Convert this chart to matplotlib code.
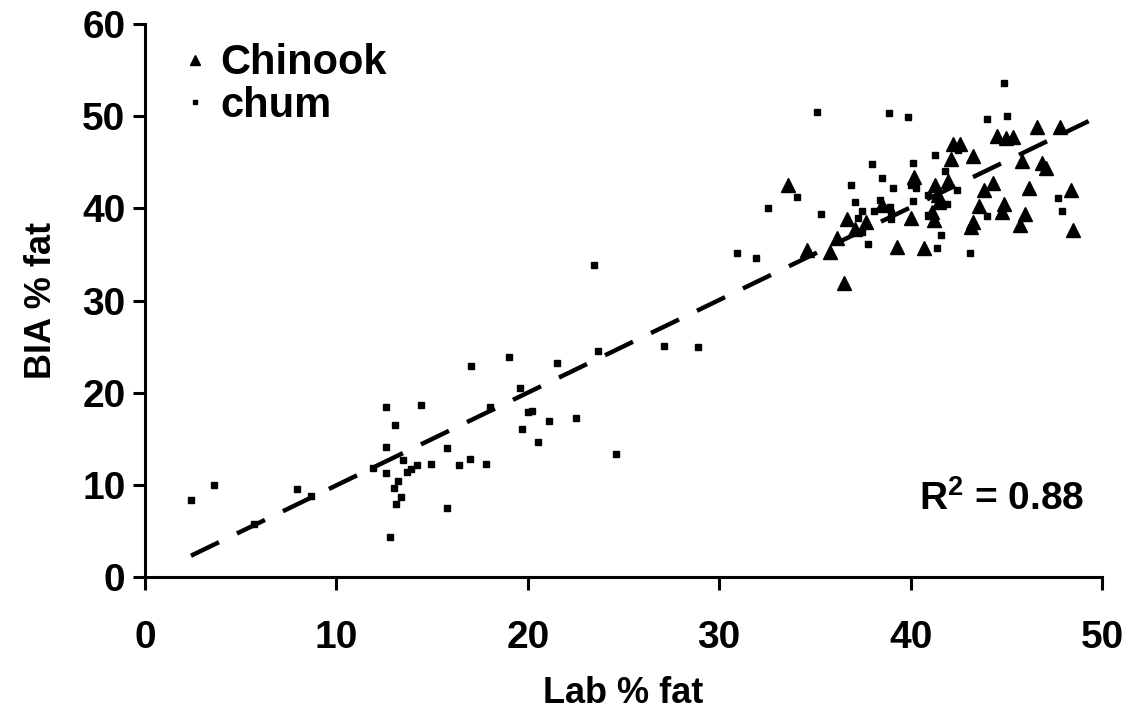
import numpy as np
import matplotlib
matplotlib.use("Agg")
import matplotlib.pyplot as plt

plt.rcParams["font.family"] = ["Liberation Sans", "DejaVu Sans"]
plt.rcParams["font.weight"] = "bold"
plt.rcParams["mathtext.fontset"] = "custom"
plt.rcParams["mathtext.bf"] = "Liberation Sans:bold"
plt.rcParams["mathtext.rm"] = "Liberation Sans:bold"

# Chinook (triangles): lab % fat, BIA % fat
chinook_x = [33.6, 34.6, 35.8, 36.15, 36.5, 36.7, 37.1, 37.65, 38.5, 39.3,
             40.0, 40.2, 40.7, 41.1, 41.2, 41.25, 41.45, 41.5, 41.95, 42.1,
             42.2, 42.6, 43.25, 43.25, 43.15, 43.55, 43.85, 44.3, 44.5, 44.8,
             44.9, 45.0, 45.35, 45.7, 45.8, 46.0, 46.2, 46.6, 46.85, 47.05,
             47.8, 48.4, 48.5]
chinook_y = [42.5, 35.5, 35.3, 36.8, 31.9, 38.8, 37.8, 38.5, 40.4, 35.8,
             39.0, 43.45, 35.65, 39.6, 38.75, 42.55, 41.45, 40.7, 43.0, 45.3,
             47.0, 46.95, 45.7, 38.5, 38.0, 40.3, 41.95, 42.7, 47.8, 39.55,
             40.45, 47.6, 47.7, 38.2, 45.1, 39.35, 42.2, 48.85, 44.9, 44.35,
             48.85, 42.0, 37.65]

# chum (squares)
chum_x = [2.4, 3.6, 5.7, 7.95, 8.65, 11.9, 12.6, 14.4, 13.05, 12.6,
          12.6, 13.5, 13.2, 13.0, 13.4, 13.1, 12.8, 13.7, 13.9, 14.2,
          14.95, 15.8, 15.8, 16.4, 17.0, 17.8, 17.05, 18.0, 19.0, 19.6,
          19.7, 20.0, 20.2, 20.55, 21.1, 21.5, 22.5, 23.45, 23.65, 24.6,
          27.1, 28.9, 30.95, 31.9, 32.55, 34.05, 35.1, 35.3,
          36.9, 37.1, 37.45, 37.25, 37.45, 37.8, 38.0, 38.5, 39.1, 38.1,
          38.4, 38.9, 39.0, 39.0, 38.85, 39.85, 40.1, 40.0, 40.3, 40.1,
          40.9, 40.9, 41.3, 41.8, 41.9, 42.45, 41.6, 41.4, 44.0, 45.05,
          44.9, 42.5, 44.0, 47.7, 47.9, 43.1]
chum_y = [8.4, 10.0, 5.75, 9.6, 8.8, 11.85, 18.5, 18.7, 16.5, 14.1,
          11.3, 12.7, 10.4, 9.7, 8.7, 7.9, 4.3, 11.4, 11.7, 12.2,
          12.25, 14.05, 7.5, 12.1, 12.8, 12.3, 22.9, 18.4, 23.9, 20.5,
          16.05, 17.9, 18.0, 14.6, 16.9, 23.2, 17.2, 33.8, 24.5, 13.4,
          25.1, 25.0, 35.2, 34.6, 40.0, 41.2, 50.4, 39.4,
          42.5, 40.7, 39.7, 39.0, 37.4, 36.1, 44.8, 43.3, 42.25, 39.7,
          40.9, 40.2, 39.5, 38.85, 50.3, 49.95, 44.9, 42.55, 42.2, 40.8,
          41.45, 39.3, 45.8, 44.05, 40.5, 41.95, 37.1, 35.75, 49.7, 50.0,
          53.55, 46.3, 39.2, 41.1, 39.75, 35.2]

all_x = np.array(chinook_x + chum_x)
all_y = np.array(chinook_y + chum_y)
slope, intercept = np.polyfit(all_x, all_y, 1)

fig = plt.figure(figsize=(11.32, 7.21), dpi=100)
ax = fig.add_subplot(111)
fig.subplots_adjust(left=0.1281, right=0.9735, bottom=0.1997, top=0.9667)

ax.plot(chinook_x, chinook_y, linestyle="none", marker="^", ms=10,
        color="black", label="Chinook")
ax.plot(chum_x, chum_y, linestyle="none", marker="s", ms=4.5,
        color="black", label="chum")

# trend line over the data range
fx = np.array([all_x.min(), all_x.max() + 0.8])
line, = ax.plot(fx, slope * fx + intercept, color="black", lw=3.2)
line.set_dashes((7, 4.5))

ax.set_xlim(0, 50)
ax.set_ylim(0, 60)
ax.set_xticks(range(0, 51, 10))
ax.set_yticks(range(0, 61, 10))
for s in ["top", "right"]:
    ax.spines[s].set_visible(False)
for s in ["left", "bottom"]:
    ax.spines[s].set_linewidth(2.2)
ax.tick_params(direction="out", length=9, width=2.2, labelsize=28)
ax.tick_params(axis="x", pad=22)
ax.tick_params(axis="y", pad=5)

ax.set_xlabel("Lab % fat", fontsize=26, fontweight="bold", labelpad=14)
ax.set_ylabel("BIA % fat", fontsize=26, fontweight="bold", labelpad=17)

ax.text(49.1, 8.5, r"R$^{\mathbf{2}}$ = 0.88", fontsize=28, fontweight="bold",
        ha="right", va="center")

ax.legend(loc="upper left", bbox_to_anchor=(0.022, 0.995), frameon=False,
          fontsize=30, markerscale=0.75, handlelength=0.6, handletextpad=0.3,
          labelspacing=0.05, borderaxespad=0)

fig.savefig("out.png", dpi=100)
